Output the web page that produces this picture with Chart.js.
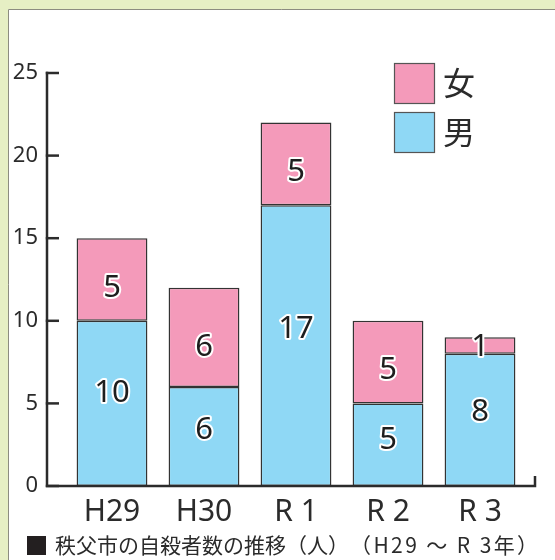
<!DOCTYPE html>
<html lang="ja">
<head>
<meta charset="utf-8">
<title>秩父市の自殺者数の推移</title>
<script src="https://cdn.jsdelivr.net/npm/chart.js@4"></script>
<style>
  html, body { margin: 0; padding: 0; background: #e6efc4; }
  #chart { display: block; }
</style>
</head>
<body>
<canvas id="chart" width="555" height="560"></canvas>
<script>
// Years (H29 – R3)
const years = ['H29', 'H30', 'R 1', 'R 2', 'R 3'];
// Suicides by sex, persons
const male = [10, 6, 17, 5, 8];
const female = [5, 6, 5, 5, 1];
// Y axis ticks
const yTicks = [0, 5, 10, 15, 20, 25];

const captionMain = '秩父市の自殺者数の推移（人）';
const captionYears = '（H29 ～ R 3年）';

const FONT = "'Noto Sans', 'Open Sans', 'Noto Sans CJK JP', sans-serif";
const CJK = "'Noto Sans CJK JP', 'Noto Sans', sans-serif";
const INK = '#2b2b2b';
const BLUE = '#8fd8f5';
const PINK = '#f49aba';

// Page panel: green frame with a white sheet
const panelPlugin = {
  id: 'panel',
  beforeDraw(chart) {
    const { ctx, width, height } = chart;
    ctx.save();
    ctx.fillStyle = '#e6efc4';
    ctx.fillRect(0, 0, width, height);
    ctx.fillStyle = '#ffffff';
    ctx.fillRect(8, 9, width - 8, height - 9);
    ctx.strokeStyle = '#8c8c80';
    ctx.lineWidth = 1;
    ctx.beginPath();
    ctx.moveTo(8.5, height);
    ctx.lineTo(8.5, 9.5);
    ctx.lineTo(width, 9.5);
    ctx.stroke();
    ctx.restore();
  }
};

// Axis lines with inward ticks
const axesPlugin = {
  id: 'axesLines',
  afterDatasetsDraw(chart) {
    const { ctx } = chart;
    const y = chart.scales.y;
    const axisX = 47;
    const y0 = y.getPixelForValue(0);
    const yTop = y.getPixelForValue(25);
    ctx.save();
    ctx.strokeStyle = INK;
    ctx.lineWidth = 2.5;
    ctx.lineCap = 'butt';
    ctx.beginPath();
    ctx.moveTo(axisX, yTop - 1.2);
    ctx.lineTo(axisX, y0);
    ctx.lineTo(535, y0);
    ctx.lineTo(535, y0 - 10);
    ctx.stroke();
    yTicks.forEach(v => {
      const py = y.getPixelForValue(v);
      ctx.beginPath();
      ctx.moveTo(axisX - 1.2, py);
      ctx.lineTo(axisX + 12, py);
      ctx.stroke();
    });
    ctx.restore();
  }
};

// Value labels inside each segment; anchor is the share of the
// segment height measured up from its base
const labelAnchor = { '男': 0.56, '女': 0.4 };
const valueLabels = {
  id: 'valueLabels',
  afterDatasetsDraw(chart) {
    const { ctx } = chart;
    ctx.save();
    ctx.font = `31px ${FONT}`;
    ctx.textAlign = 'center';
    ctx.textBaseline = 'middle';
    ctx.lineJoin = 'round';
    chart.data.datasets.forEach((ds, di) => {
      const k = labelAnchor[ds.label] ?? 0.5;
      chart.getDatasetMeta(di).data.forEach((bar, i) => {
        const v = ds.data[i];
        const cy = bar.base - (bar.base - bar.y) * k;
        ctx.strokeStyle = '#ffffff';
        ctx.lineWidth = 4;
        ctx.strokeText(String(v), bar.x, cy);
        ctx.fillStyle = '#1e1e1e';
        ctx.fillText(String(v), bar.x, cy);
      });
    });
    ctx.restore();
  }
};

// Legend boxes (女 above 男) and the caption line
const legendCaption = {
  id: 'legendCaption',
  afterDraw(chart) {
    const { ctx } = chart;
    ctx.save();
    const items = [...chart.data.datasets].reverse();
    items.forEach((ds, k) => {
      const top = 63 + k * 49;
      ctx.fillStyle = ds.backgroundColor;
      ctx.fillRect(394, top, 40, 40);
      ctx.strokeStyle = '#555';
      ctx.lineWidth = 1.2;
      ctx.strokeRect(394.5, top + 0.5, 40, 40);
      ctx.fillStyle = INK;
      ctx.font = `32px ${CJK}`;
      ctx.textAlign = 'left';
      ctx.textBaseline = 'middle';
      ctx.fillText(ds.label, 443, top + 20);
    });
    // caption: black square marker, then the title text
    ctx.fillStyle = '#231f20';
    ctx.fillRect(27, 536, 19, 19);
    ctx.font = `21px ${CJK}`;
    ctx.fillStyle = INK;
    ctx.textAlign = 'left';
    ctx.textBaseline = 'middle';
    ctx.fillText(captionMain, 55, 545);
    ctx.letterSpacing = '2.4px';
    ctx.fillText(captionYears, 350, 545);
    ctx.restore();
  }
};

new Chart(document.getElementById('chart'), {
  type: 'bar',
  data: {
    labels: years,
    datasets: [
      { label: '男', data: male, backgroundColor: BLUE },
      { label: '女', data: female, backgroundColor: PINK }
    ]
  },
  options: {
    responsive: false,
    animation: false,
    devicePixelRatio: 1,
    layout: { padding: { top: 73, right: 29, bottom: 0, left: 0 } },
    datasets: {
      bar: {
        borderColor: '#333',
        borderWidth: 1.5,
        borderSkipped: false,
        barPercentage: 0.77,
        categoryPercentage: 1
      }
    },
    plugins: {
      legend: { display: false },
      tooltip: { enabled: false }
    },
    scales: {
      x: {
        stacked: true,
        grid: { display: false, drawTicks: false },
        border: { display: false },
        ticks: {
          color: INK,
          padding: 8,
          font: { family: FONT, size: 30 }
        },
        afterFit(s) { s.height = 74; }
      },
      y: {
        stacked: true,
        min: 0,
        max: 25,
        grid: { display: false, drawTicks: false },
        border: { display: false },
        afterBuildTicks(s) { s.ticks = yTicks.map(v => ({ value: v })); },
        ticks: {
          color: INK,
          padding: 28,
          font: { family: FONT, size: 22 }
        },
        afterFit(s) { s.width = 66; }
      }
    }
  },
  plugins: [panelPlugin, axesPlugin, valueLabels, legendCaption]
});
</script>
</body>
</html>
